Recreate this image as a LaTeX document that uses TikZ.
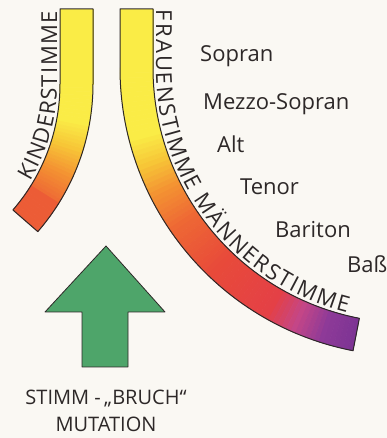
\documentclass[tikz,border=0pt]{standalone}
\usepackage{fontspec}
\setmainfont{Open Sans}
\usepackage{tikz}
\usetikzlibrary{decorations.text}
\usepackage{xcolor}
\definecolor{paper}{RGB}{250, 248, 243}
\definecolor{inkgray}{RGB}{45, 40, 40}
\definecolor{bandyellow}{RGB}{250, 236, 70}
\definecolor{bandamber}{RGB}{247, 198, 55}
\definecolor{bandorange}{RGB}{244, 148, 50}
\definecolor{bandvermil}{RGB}{238, 104, 52}
\definecolor{bandred}{RGB}{232, 74, 58}
\definecolor{bandcrimson}{RGB}{228, 64, 70}
\definecolor{bandmagenta}{RGB}{196, 70, 135}
\definecolor{bandpurple}{RGB}{142, 58, 152}
\definecolor{bandviolet}{RGB}{126, 52, 148}
\definecolor{arrowgreen}{RGB}{78, 165, 106}

\begin{document}
\begin{tikzpicture}[x=1pt, y=1pt, every node/.style={font=\fontsize{22}{22}\selectfont, text=inkgray},
  voice/.style={anchor=base west, inner sep=0pt},
  piece/.style={fill=#1, draw=#1, line width=0.5pt},
  bandedge/.style={draw=inkgray, line width=1pt, line join=round}]
\useasboundingbox (0,0) rectangle (387,438);
\fill[paper] (0,0) rectangle (387,438);

% Kinderstimme band
\fill[piece=bandyellow] (60,354) rectangle (93,429);
\begin{scope}[shift={(-132,354)}]
\foreach \a/\b/\ca/\cb in {0/10/bandyellow/bandyellow, 10/17/bandyellow/bandamber, 17/24/bandamber/bandorange, 24/32/bandorange/bandvermil, 32/40/bandvermil/bandvermil!60!bandred}{
  \foreach \s in {\a,...,\b}{
    \pgfmathtruncatemacro\p{100*(\b-\s)/(\b-\a)}
    \fill[piece={\ca!\p!\cb}] (-\s:192) arc[start angle=-\s, end angle=-\s-1, radius=192]
      -- (-\s-1:225) arc[start angle=-\s-1, end angle=-\s, radius=225] -- cycle;
  }
}
\end{scope}
\draw[bandedge] (60,429) -- (60,354) arc[start angle=0, end angle=-41, radius=192]
  -- ([shift={(-132,354)}]-41:225) arc[start angle=-41, end angle=0, radius=225] -- (93,429) -- cycle;

% Frauen- und Maennerstimme band
\fill[piece=bandyellow] (120,370) rectangle (153,429);
\begin{scope}[shift={(408,370)}]
\foreach \a/\b/\ca/\cb in {180/194/bandyellow/bandyellow, 194/200/bandyellow/bandamber, 200/206/bandamber/bandorange, 206/214/bandorange/bandvermil, 214/226/bandvermil/bandred, 226/240/bandred/bandcrimson, 240/246/bandcrimson/bandmagenta, 246/252/bandmagenta/bandpurple, 252/258/bandpurple/bandviolet}{
  \foreach \s in {\a,...,\b}{
    \pgfmathtruncatemacro\p{100*(\b-\s)/(\b-\a)}
    \fill[piece={\ca!\p!\cb}] (\s:288) arc[start angle=\s, end angle=\s+1, radius=288]
      -- (\s+1:255) arc[start angle=\s+1, end angle=\s, radius=255] -- cycle;
  }
}
\end{scope}
\draw[bandedge] (120,429) -- (120,370) arc[start angle=180, end angle=259, radius=288]
  -- ([shift={(408,370)}]259:255) arc[start angle=259, end angle=180, radius=255] -- (153,429) -- cycle;

% band labels
\path[decorate, decoration={text along path, text align={fit to path}, raise=3pt, text color=inkgray,
  text={|\fontsize{22}{22}\selectfont|KINDERSTIMME}}]
  ([shift={(-132,354)}]-31:192) arc[start angle=-31, end angle=0, radius=192] -- (60,427);
\path[decorate, decoration={text along path, text align={fit to path}, raise=3pt, text color=inkgray,
  text={|\fontsize{22}{22}\selectfont|FRAUENSTIMME MÄNNERSTIMME}}]
  (153,428) -- (153,370) arc[start angle=180, end angle=256, radius=255];

% voice types
\node[voice] (sopran) at (200,376) {Sopran};
\node[voice] (mezzo) at (203,328) {Mezzo-Sopran};
\node[voice] (alt) at (217,285) {Alt};
\node[voice] (tenor) at (240,243) {Tenor};
\node[voice] (bariton) at (275,200) {Bariton};
\node[voice] (bass) at (347,165) {Baß};

% mutation arrow
\draw[fill=arrowgreen, draw=inkgray, line width=0.8pt, line join=round]
  (106,192) -- (165,126) -- (128,126) -- (128,71) -- (82,71) -- (82,126) -- (45,126) -- cycle;
\node[anchor=base, font=\fontsize{20}{20}\selectfont] (bruch) at (106,33) {STIMM -\,„BRUCH“};
\node[anchor=base, font=\fontsize{20}{20}\selectfont] (mutation) at (106,6) {MUTATION};
\end{tikzpicture}
\end{document}
